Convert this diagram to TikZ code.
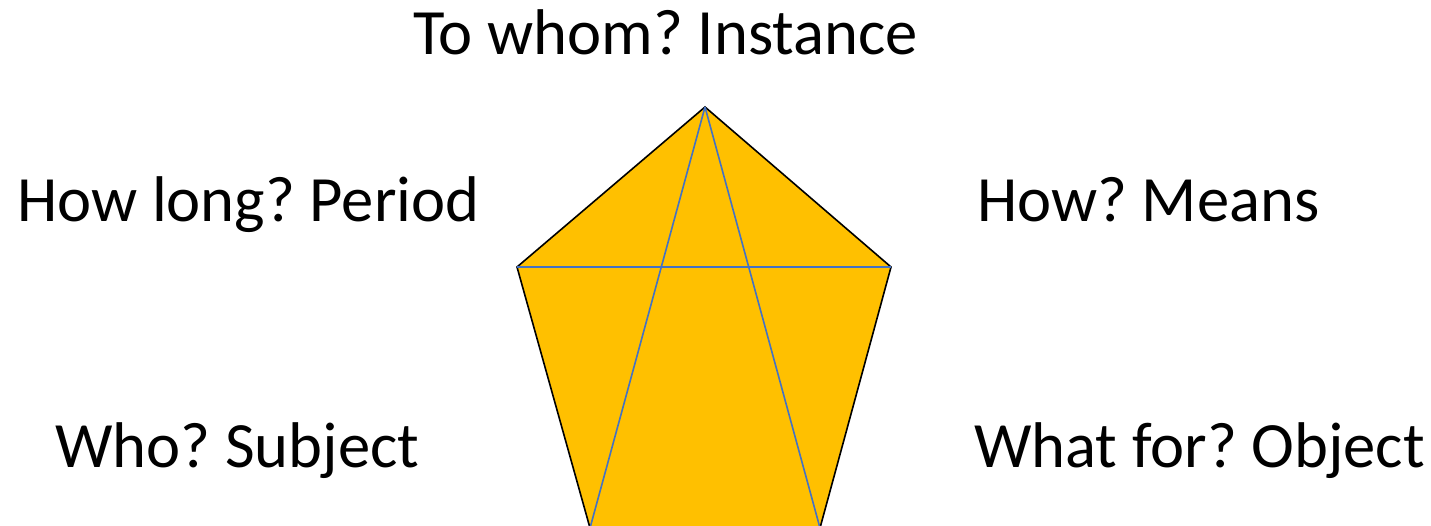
\documentclass[tikz,border=0pt]{standalone}
\usepackage{fontspec}
\setmainfont{Carlito}
\definecolor{penta}{HTML}{FFC000}
\definecolor{diag}{HTML}{4472C4}
\begin{document}
\frenchspacing
\begin{tikzpicture}[x=1pt,y=-1pt,
  lbl/.style={inner sep=0pt,anchor=base west,font=\fontsize{64.6}{76}\selectfont},
  edge/.style={draw=black,line width=1.6pt,line join=miter},
  diagline/.style={draw=diag,line width=1.6pt}]
\useasboundingbox (0,0) rectangle (1431,526);
\clip (0,0) rectangle (1431,526);
\coordinate (T) at (705,107);
\coordinate (L) at (517,267);
\coordinate (R) at (891,267);
\coordinate (BL) at (590,528);
\coordinate (BR) at (820,528);
\fill[penta] (T) -- (R) -- (BR) -- (BL) -- (L) -- cycle;
\draw[edge] (BL) -- (L) -- (T) -- (R) -- (BR);
\draw[diagline] (L) -- (R);
\draw[diagline] (T) -- (BL);
\draw[diagline] (T) -- (BR);
\node[lbl] (inst) at (413,55) {To whom? Instance};
\node[lbl] (per) at (17,222) {How long? Period};
\node[lbl] (mea) at (977,222) {How? Means};
\node[lbl] (sub) at (55,467) {Who? Subject};
\node[lbl] (obj) at (974,467) {What for? Object};
\end{tikzpicture}
\end{document}
